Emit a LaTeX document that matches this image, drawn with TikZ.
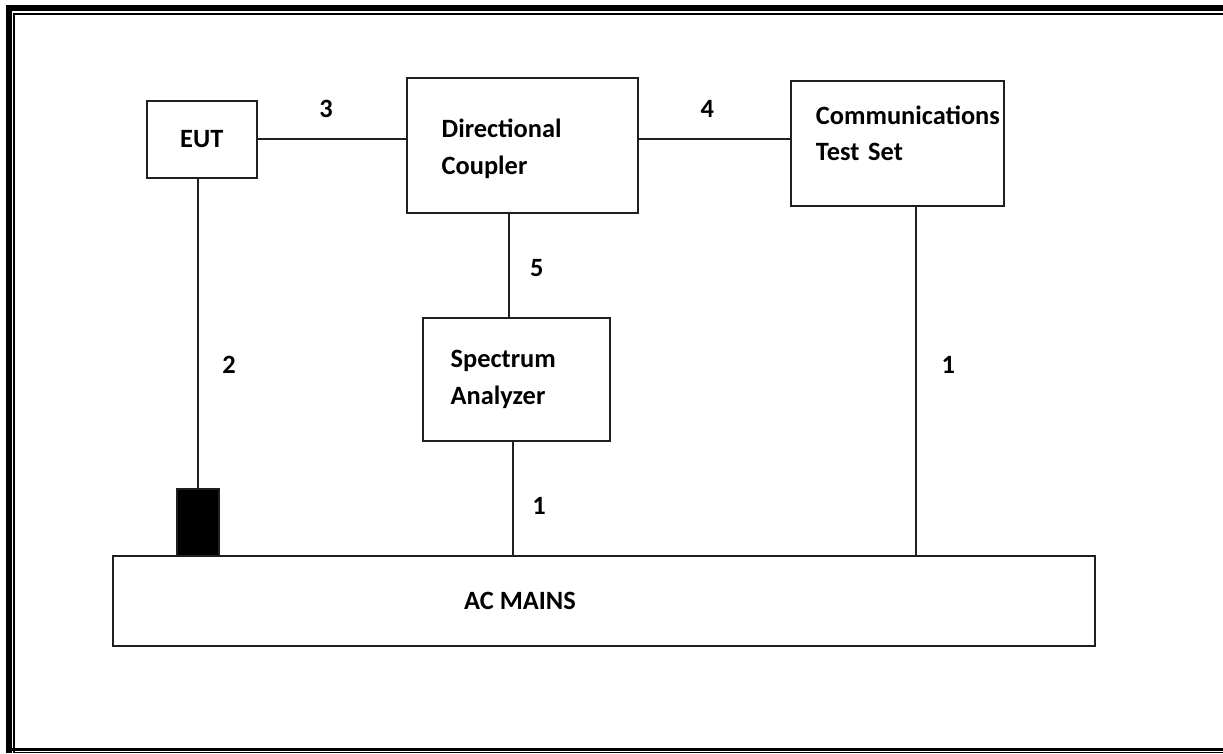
\documentclass[tikz,border=0pt]{standalone}
\usepackage{fontspec}
\setmainfont{Carlito}
\hyphenpenalty=10000

\begin{document}
\begin{tikzpicture}
[x=1pt,y=-1pt,
  lineDecorate/.style={-,line width=2pt,draw=black!88},%
  boxDecorate/.style={shape=rectangle,draw=black!88,line width=2pt,
    inner sep=0pt,outer sep=0pt,align=left},
  frameDecorate/.style={-,draw=black}]
\fontsize{26.4}{36.5}\selectfont\bfseries
\useasboundingbox (0,0) rectangle (1223,753);
%% page frame
\draw[frameDecorate,line width=6pt] (9,753) -- (9,8) -- (1223,8);
\draw[frameDecorate,line width=2pt] (14.3,753) -- (14.3,14) -- (1223,14);
\draw[frameDecorate,line width=3pt] (9,749.2) -- (1223,749.2);
\draw[frameDecorate,line width=1.5pt] (14.3,752.5) -- (1223,752.5);
%% boxes
\node (EUT) at (201.8,139.2) [boxDecorate,minimum width=109.7pt,minimum height=77pt] {EUT};
\node (DC) at (522.5,145.5) [boxDecorate,inner xsep=35pt,text width=161.6pt,text depth=34pt,minimum height=134.4pt] {Directional\\Coupler};
\node (CTS) at (897.3,143.5) [boxDecorate,inner xsep=25.3pt,text width=162.7pt,text depth=57pt,minimum height=125.6pt] {Communications\\Test Set};
\node (SA) at (516.3,379.5) [boxDecorate,inner xsep=28pt,text width=131.3pt,minimum height=123.6pt] {Spectrum\\Analyzer};
\node (AC) at (603.7,600.8) [boxDecorate,minimum width=982pt,minimum height=90.3pt] {};
\node (plug) at (198,522.3) [boxDecorate,fill=black,minimum width=42pt,minimum height=66.7pt] {};
\node (mains) at (520,600.8) {AC MAINS};
%% cable taps
\coordinate (dcTap) at ([xshift=-14pt]DC.south);
\coordinate (saTap) at ([xshift=-3.6pt]SA.south);
\coordinate (ctsTap) at ([xshift=18.7pt]CTS.south);
%% cable numbers
\foreach \cablename/\x/\y/\cablenum in {
  cableThree/326/109.3/3,
  cableFour/707.3/109.3/4,
  cableFive/536.7/268.3/5,
  cableTwo/229/365/2,
  cableOneSA/539/506/1,
  cableOneCTS/948.3/365/1}
{
  \node (\cablename) at (\x,\y) {\cablenum};
}
%% cables
\path
\foreach \startnode/\endnode in {
  EUT.east/EUT.east -| DC.west,
  DC.east |- EUT.east/CTS.west |- EUT.east,
  dcTap/dcTap |- SA.north,
  saTap/saTap |- AC.north,
  ctsTap/ctsTap |- AC.north,
  EUT.south -| plug.north/plug.north}
{
  (\startnode) edge[lineDecorate] (\endnode)
};
\end{tikzpicture}
\end{document}
